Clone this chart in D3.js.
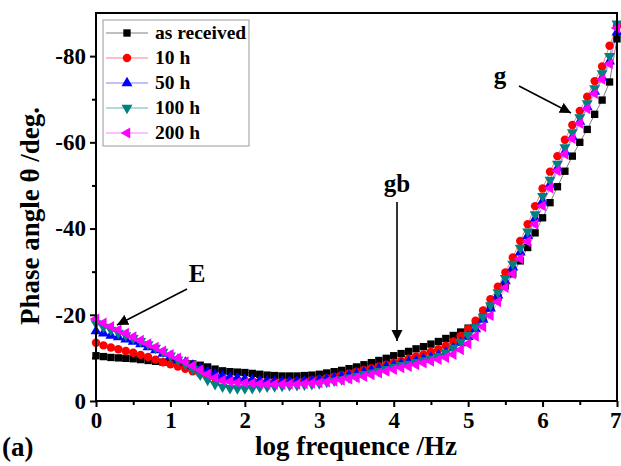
<!DOCTYPE html>
<html>
<head>
<meta charset="utf-8">
<script src="https://cdn.jsdelivr.net/npm/d3@7"></script>
<style>
  html, body { margin: 0; padding: 0; background: #fff; }
  svg { display: block; }
  text { font-family: "Liberation Serif", "Times New Roman", serif; font-weight: bold; fill: #000; }
</style>
</head>
<body>
<svg id="chart" width="621" height="466"></svg>
<script>
// log frequency (Hz), 10 points per decade
const logF = [0.0,0.1,0.2,0.3,0.4,0.5,0.6,0.7,0.8,0.9,
              1.0,1.1,1.2,1.3,1.4,1.5,1.6,1.7,1.8,1.9,
              2.0,2.1,2.2,2.3,2.4,2.5,2.6,2.7,2.8,2.9,
              3.0,3.1,3.2,3.3,3.4,3.5,3.6,3.7,3.8,3.9,
              4.0,4.1,4.2,4.3,4.4,4.5,4.6,4.7,4.8,4.9,
              5.0,5.1,5.2,5.3,5.4,5.5,5.6,5.7,5.8,5.9,
              6.0,6.1,6.2,6.3,6.4,6.5,6.6,6.7,6.8,6.9,7.0];

// phase angle (deg) for each exposure time
const asReceived = [-10.5,-10.3,-10.1,-10.0,-9.9,-9.8,-9.6,-9.4,-9.2,-9.0,
  -8.9,-8.8,-8.7,-8.6,-8.3,-7.9,-7.4,-7.0,-6.8,-6.7,
  -6.6,-6.4,-6.2,-6.0,-5.9,-5.8,-5.8,-5.8,-5.9,-6.0,
  -6.2,-6.5,-6.8,-7.1,-7.5,-7.9,-8.4,-8.9,-9.4,-9.9,
  -10.5,-11.0,-11.5,-12.1,-12.6,-13.2,-13.8,-14.5,-15.2,-16.0,
  -16.9,-18.0,-19.6,-21.6,-24.0,-26.7,-29.5,-32.5,-35.6,-39.0,
  -42.5,-46.0,-49.7,-53.3,-56.8,-60.0,-63.0,-66.5,-69.8,-74.0,-84.0];

const h10 = [-13.5,-12.9,-12.4,-12.0,-11.6,-11.2,-10.7,-10.2,-9.6,-9.0,
  -8.5,-8.0,-7.5,-6.9,-6.3,-5.8,-5.4,-5.1,-4.9,-4.8,
  -4.7,-4.6,-4.5,-4.4,-4.4,-4.4,-4.4,-4.5,-4.6,-4.8,
  -5.0,-5.3,-5.6,-6.0,-6.4,-6.8,-7.2,-7.6,-8.0,-8.4,
  -8.9,-9.3,-9.8,-10.3,-10.8,-11.4,-12.0,-12.8,-13.8,-15.1,
  -16.7,-18.6,-21.0,-23.6,-26.5,-29.8,-33.3,-37.1,-41.0,-45.2,
  -49.3,-53.2,-56.8,-60.6,-64.0,-67.3,-70.6,-74.2,-77.6,-82.4,-87.0];

const h50 = [-16.2,-15.7,-15.2,-14.8,-14.3,-13.8,-13.2,-12.5,-11.8,-11.0,
  -10.3,-9.6,-8.9,-8.2,-7.5,-6.8,-6.2,-5.8,-5.5,-5.3,
  -5.1,-4.9,-4.7,-4.6,-4.5,-4.5,-4.5,-4.5,-4.6,-4.7,
  -4.9,-5.1,-5.4,-5.7,-6.0,-6.3,-6.7,-7.1,-7.5,-7.9,
  -8.3,-8.6,-9.0,-9.3,-9.7,-10.1,-10.6,-11.3,-12.3,-13.5,
  -14.9,-16.7,-18.9,-21.5,-24.5,-27.8,-31.0,-34.5,-38.3,-42.3,
  -46.3,-50.2,-54.0,-57.8,-61.3,-64.8,-68.2,-71.8,-75.0,-78.8,-85.5];

const h100 = [-18.0,-17.2,-16.5,-15.8,-15.2,-14.6,-13.9,-13.1,-12.3,-11.4,
  -10.5,-9.6,-8.6,-7.4,-6.1,-4.9,-3.9,-3.3,-3.0,-2.9,
  -2.9,-3.0,-3.2,-3.3,-3.4,-3.5,-3.6,-3.7,-3.8,-3.9,
  -4.1,-4.4,-4.7,-5.0,-5.4,-5.8,-6.2,-6.6,-7.0,-7.4,
  -7.9,-8.3,-8.6,-9.0,-9.4,-9.8,-10.4,-11.2,-12.3,-13.7,
  -15.3,-17.2,-19.5,-22.2,-25.2,-28.5,-31.8,-35.5,-39.3,-43.3,
  -47.5,-51.3,-55.0,-58.8,-62.3,-65.8,-69.0,-72.5,-76.0,-80.0,-87.5];

const h200 = [-19.0,-18.1,-17.3,-16.5,-15.7,-14.9,-14.1,-13.3,-12.5,-11.6,
  -10.8,-10.0,-9.1,-8.2,-7.2,-6.2,-5.4,-4.8,-4.5,-4.3,
  -4.2,-4.1,-4.0,-3.9,-3.9,-3.9,-3.9,-3.9,-4.0,-4.1,
  -4.2,-4.4,-4.6,-4.8,-5.1,-5.4,-5.7,-6.1,-6.5,-6.9,
  -7.3,-7.7,-8.0,-8.4,-8.8,-9.2,-9.6,-10.1,-10.8,-11.9,
  -13.3,-15.0,-17.2,-19.8,-23.0,-26.3,-29.5,-33.0,-37.0,-41.0,
  -45.3,-49.4,-53.4,-57.3,-60.9,-64.4,-67.8,-71.3,-74.6,-78.2,-86.5];

const seriesNames = ["as received", "10 h", "50 h", "100 h", "200 h"];
const seriesValues = [asReceived, h10, h50, h100, h200];

const xTicks = [0, 1, 2, 3, 4, 5, 6, 7];
const xMinorTicks = [0.5, 1.5, 2.5, 3.5, 4.5, 5.5, 6.5];
const yTicks = [0, -20, -40, -60, -80];
const yMinorTicks = [-10, -30, -50, -70];

// styling per series
const colors = ["#000000", "#ff0000", "#0000ff", "#008080", "#ff00ff"];
const lineColors = ["#808080", "#ff8080", "#8080ff", "#66b3b3", "#ff80ff"];
const shapes = [
  d3.symbol(d3.symbolSquare, 54),
  d3.symbol(d3.symbolCircle, 56),
  d3.symbol(d3.symbolTriangle, 52),
  d3.symbol(d3.symbolTriangle, 52),
  d3.symbol(d3.symbolTriangle, 52)
];
const rotations = [0, 0, 0, 180, -90];

const svg = d3.select("#chart");
const plotLeft = 96, plotRight = 617, plotTop = 13, plotBottom = 401;

const x = d3.scaleLinear().domain([0, 7]).range([plotLeft, plotRight]);
const y = d3.scaleLinear().domain([0, -90]).range([plotBottom, plotTop]);

// series: connecting lines, then markers
const line = d3.line().x((d, i) => x(logF[i])).y(d => y(d));
const plot = svg.append("g");
seriesValues.forEach((vals, s) => {
  plot.append("path")
    .attr("d", line(vals))
    .attr("fill", "none")
    .attr("stroke", lineColors[s])
    .attr("stroke-width", 1);
});
seriesValues.forEach((vals, s) => {
  plot.append("g").selectAll("path")
    .data(vals)
    .join("path")
    .attr("d", shapes[s])
    .attr("transform", (d, i) => `translate(${x(logF[i])},${y(d)}) rotate(${rotations[s]})`)
    .attr("fill", colors[s]);
});

// axes
const fmt = d => String(d);
const xAxisG = svg.append("g").attr("transform", `translate(0,${plotBottom})`)
  .call(d3.axisBottom(x).tickValues(xTicks).tickSize(6).tickPadding(5).tickFormat(fmt));
svg.append("g").attr("transform", `translate(0,${plotBottom})`)
  .call(d3.axisBottom(x).tickValues(xMinorTicks).tickSize(4).tickFormat(""));
svg.append("g").attr("transform", `translate(${plotLeft},0)`)
  .call(d3.axisLeft(y).tickValues(yTicks).tickSize(6).tickPadding(4).tickFormat(fmt));
svg.append("g").attr("transform", `translate(${plotLeft},0)`)
  .call(d3.axisLeft(y).tickValues(yMinorTicks).tickSize(4).tickFormat(""));

svg.selectAll(".domain").remove();
svg.selectAll(".tick line").attr("stroke", "#000").attr("stroke-width", 2);
svg.selectAll(".tick text")
  .style("font-family", "'Liberation Serif', serif")
  .style("font-weight", "bold")
  .style("font-size", "23px")
  .attr("fill", "#000");
// keep the last x label inside the page edge
xAxisG.selectAll(".tick text")
  .filter(d => d === 7)
  .attr("text-anchor", "end")
  .attr("dx", "4");

// frame
svg.append("rect")
  .attr("x", plotLeft).attr("y", plotTop)
  .attr("width", plotRight - plotLeft).attr("height", plotBottom - plotTop)
  .attr("fill", "none").attr("stroke", "#000").attr("stroke-width", 2);

// axis titles
svg.append("text")
  .attr("x", 356).attr("y", 455)
  .attr("text-anchor", "middle")
  .style("font-size", "27px")
  .text("log frequence /Hz");

svg.append("text")
  .attr("transform", "translate(39,216) rotate(-90)")
  .attr("text-anchor", "middle")
  .style("font-size", "27px")
  .text("Phase angle θ /deg.");

svg.append("text")
  .attr("x", 2).attr("y", 456)
  .style("font-size", "27px")
  .text("(a)");

// legend
const legend = svg.append("g");
legend.append("rect")
  .attr("x", 103).attr("y", 20).attr("width", 146).attr("height", 126)
  .attr("fill", "#fff").attr("stroke", "#999").attr("stroke-width", 1);
seriesNames.forEach((name, s) => {
  const ly = 33 + s * 25;
  legend.append("line")
    .attr("x1", 106).attr("x2", 148).attr("y1", ly).attr("y2", ly)
    .attr("stroke", lineColors[s]).attr("stroke-width", 1);
  legend.append("path")
    .attr("d", shapes[s])
    .attr("transform", `translate(127,${ly}) rotate(${rotations[s]})`)
    .attr("fill", colors[s]);
  legend.append("text")
    .attr("x", 155).attr("y", ly + 6)
    .style("font-size", "19.5px")
    .text(name);
});

// annotation arrows
const defs = svg.append("defs");
defs.append("marker")
  .attr("id", "head")
  .attr("viewBox", "0 0 10 10")
  .attr("refX", 10).attr("refY", 5)
  .attr("markerWidth", 7).attr("markerHeight", 7)
  .attr("markerUnits", "strokeWidth")
  .attr("orient", "auto")
  .append("path").attr("d", "M0,0 L10,5 L0,10 Z").attr("fill", "#000");

const notes = [
  {label: "E",  tx: 197, ty: 282, x1: 187, y1: 289, x2: 117, y2: 325},
  {label: "gb", tx: 397, ty: 192, x1: 397, y1: 202, x2: 397, y2: 341},
  {label: "g",  tx: 500, ty: 84,  x1: 519, y1: 86,  x2: 571, y2: 113}
];
notes.forEach(n => {
  svg.append("line")
    .attr("x1", n.x1).attr("y1", n.y1).attr("x2", n.x2).attr("y2", n.y2)
    .attr("stroke", "#000").attr("stroke-width", 1.6)
    .attr("marker-end", "url(#head)");
  svg.append("text")
    .attr("x", n.tx).attr("y", n.ty)
    .attr("text-anchor", "middle")
    .style("font-size", "25px")
    .text(n.label);
});
</script>
</body>
</html>
